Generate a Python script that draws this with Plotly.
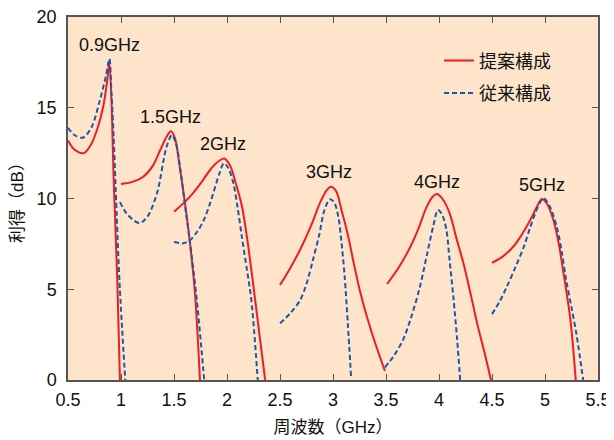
import plotly.graph_objects as go

# ---- data ----
red09_x = [0.5, 0.56, 0.65, 0.72, 0.78, 0.83, 0.87, 0.89, 0.91, 0.93, 0.965, 0.99]
red09_y = [13.2, 12.7, 12.5, 13.0, 13.9, 15.0, 16.5, 17.5, 15.4, 11.2, 5.5, 0]
blue09_x = [0.5, 0.56, 0.64, 0.72, 0.80, 0.86, 0.89, 0.91, 0.93, 0.95, 0.985, 1.04]
blue09_y = [13.9, 13.5, 13.35, 13.9, 15.4, 16.8, 17.7, 15.8, 13.5, 10.5, 5.5, 0]

red15_x = [1.0, 1.1, 1.21, 1.30, 1.37, 1.43, 1.47, 1.51, 1.55, 1.60, 1.65, 1.70, 1.745]
red15_y = [10.8, 10.9, 11.2, 11.8, 12.67, 13.4, 13.7, 13.3, 11.9, 9.9, 7.6, 4.6, 0]
blue15_x = [0.99, 1.05, 1.12, 1.18, 1.25, 1.34, 1.43, 1.48, 1.52, 1.56, 1.60, 1.65, 1.71, 1.785]
blue15_y = [9.8, 9.2, 8.8, 8.65, 9.0, 10.3, 12.85, 13.5, 13.0, 11.6, 9.8, 7.6, 4.7, 0]

red2_x = [1.5, 1.6, 1.68, 1.76, 1.84, 1.92, 1.975, 2.03, 2.08, 2.14, 2.19, 2.24, 2.30, 2.36]
red2_y = [9.27, 9.8, 10.3, 10.9, 11.57, 12.05, 12.2, 11.8, 10.9, 9.6, 7.8, 5.6, 2.8, 0]
blue2_x = [1.5, 1.55, 1.59, 1.65, 1.71, 1.78, 1.84, 1.93, 1.97, 2.01, 2.06, 2.10, 2.14, 2.19, 2.23, 2.29]
blue2_y = [7.6, 7.55, 7.53, 7.7, 8.1, 8.8, 9.73, 11.4, 11.94, 11.7, 10.84, 9.5, 7.9, 6.0, 4.4, 0]

red3_x = [2.5, 2.6, 2.7, 2.8, 2.88, 2.94, 2.98, 3.03, 3.08, 3.14, 3.19, 3.25, 3.32, 3.40, 3.49]
red3_y = [5.23, 6.2, 7.3, 8.6, 9.8, 10.45, 10.65, 10.4, 9.37, 8.0, 6.6, 5.0, 3.49, 2.0, 0.5]
blue3_x = [2.5, 2.6, 2.69, 2.75, 2.81, 2.87, 2.92, 2.97, 3.01, 3.05, 3.08, 3.11, 3.14, 3.17]
blue3_y = [3.12, 3.7, 4.4, 5.3, 6.6, 8.0, 9.37, 9.96, 9.8, 9.0, 7.6, 5.7, 3.1, 0.2]

red4_x = [3.51, 3.62, 3.73, 3.81, 3.88, 3.94, 3.98, 4.03, 4.10, 4.16, 4.23, 4.30, 4.36, 4.43, 4.49]
red4_y = [5.29, 6.2, 7.34, 8.4, 9.5, 10.1, 10.25, 10.0, 9.2, 7.9, 6.44, 4.7, 3.12, 1.5, 0]
blue4_x = [3.49, 3.57, 3.66, 3.74, 3.82, 3.89, 3.945, 3.99, 4.03, 4.07, 4.10, 4.135, 4.17, 4.20]
blue4_y = [0.7, 1.3, 2.2, 3.5, 5.14, 7.0, 8.45, 9.37, 9.1, 8.26, 6.6, 4.6, 2.3, 0]

red5_x = [4.5, 4.6, 4.70, 4.78, 4.86, 4.92, 4.97, 5.02, 5.08, 5.13, 5.17, 5.24, 5.29]
red5_y = [6.46, 6.8, 7.34, 8.0, 8.8, 9.5, 9.97, 9.7, 8.8, 7.5, 6.06, 3.3, 0]
blue5_x = [4.5, 4.57, 4.64, 4.72, 4.80, 4.86, 4.92, 4.96, 4.99, 5.05, 5.11, 5.16, 5.20, 5.25, 5.30, 5.36]
blue5_y = [3.63, 4.3, 5.14, 6.2, 7.34, 8.4, 9.37, 9.85, 10.01, 9.5, 8.45, 7.0, 5.5, 4.0, 2.4, 0]

band_labels = ["0.9GHz", "1.5GHz", "2GHz", "3GHz", "4GHz", "5GHz"]
label_x = [0.887, 1.47, 1.96, 2.96, 3.98, 4.97]
label_y = [18.46, 14.49, 13.0, 11.46, 10.9, 10.74]

series_names = ["提案構成", "従来構成"]
x_ticks = [0.5, 1, 1.5, 2, 2.5, 3, 3.5, 4, 4.5, 5, 5.5]
y_ticks = [0, 5, 10, 15, 20]

RED = "#EE1D23"
BLUE = "#1C57A8"
BG = "#FDE4CA"
FONT = "Liberation Sans, Arial, Noto Sans CJK JP"

red_sets = [(red09_x, red09_y), (red15_x, red15_y), (red2_x, red2_y),
            (red3_x, red3_y), (red4_x, red4_y), (red5_x, red5_y)]
blue_sets = [(blue09_x, blue09_y), (blue15_x, blue15_y), (blue2_x, blue2_y),
             (blue3_x, blue3_y), (blue4_x, blue4_y), (blue5_x, blue5_y)]

fig = go.Figure()
for i, (xs, ys) in enumerate(red_sets):
    fig.add_trace(go.Scatter(
        x=xs, y=ys, mode="lines", name=series_names[0],
        line=dict(color=RED, width=2, shape="spline", smoothing=0.9),
        legendgroup="a", showlegend=(i == 0)))
for i, (xs, ys) in enumerate(blue_sets):
    fig.add_trace(go.Scatter(
        x=xs, y=ys, mode="lines", name=series_names[1],
        line=dict(color=BLUE, width=2, dash="5px,3px", shape="spline", smoothing=0.9),
        legendgroup="b", showlegend=(i == 0)))

for t, xx, yy in zip(band_labels, label_x, label_y):
    fig.add_annotation(x=xx, y=yy, text=t, showarrow=False,
                       font=dict(size=18, color="#111", family=FONT),
                       xanchor="center", yanchor="middle")

axis_common = dict(showgrid=False, zeroline=False, showline=True,
                   linecolor="#555", linewidth=1.5, mirror="allticks",
                   ticks="inside", ticklen=6, tickcolor="#555", tickwidth=1.2,
                   automargin=False, ticklabeloverflow="allow",
                   tickfont=dict(size=18, color="#111", family=FONT))

fig.update_xaxes(range=[0.5, 5.5], tickvals=x_ticks,
                 ticktext=[f"{v:g}" for v in x_ticks],
                 ticklabelstandoff=3,
                 title=dict(text="周波数（GHz）", font=dict(size=17, color="#111", family=FONT), standoff=12),
                 **axis_common)
fig.update_yaxes(range=[0, 20], tickvals=y_ticks,
                 ticklabelstandoff=6,
                 title=dict(text="利得（dB）", font=dict(size=17, color="#111", family=FONT), standoff=10),
                 **axis_common)

# The page body has an 8px default margin, so the figure is sized to fit the window.
fig.update_layout(
    width=606, height=432,
    margin=dict(l=60, r=16, t=9, b=60),
    paper_bgcolor="white", plot_bgcolor=BG,
    showlegend=True,
    legend=dict(x=0.70, y=0.93, xanchor="left", yanchor="top",
                bgcolor="rgba(0,0,0,0)", borderwidth=0,
                traceorder="grouped", tracegroupgap=6,
                font=dict(size=18, color="#111", family=FONT)),
)

fig.write_html("out.html")
